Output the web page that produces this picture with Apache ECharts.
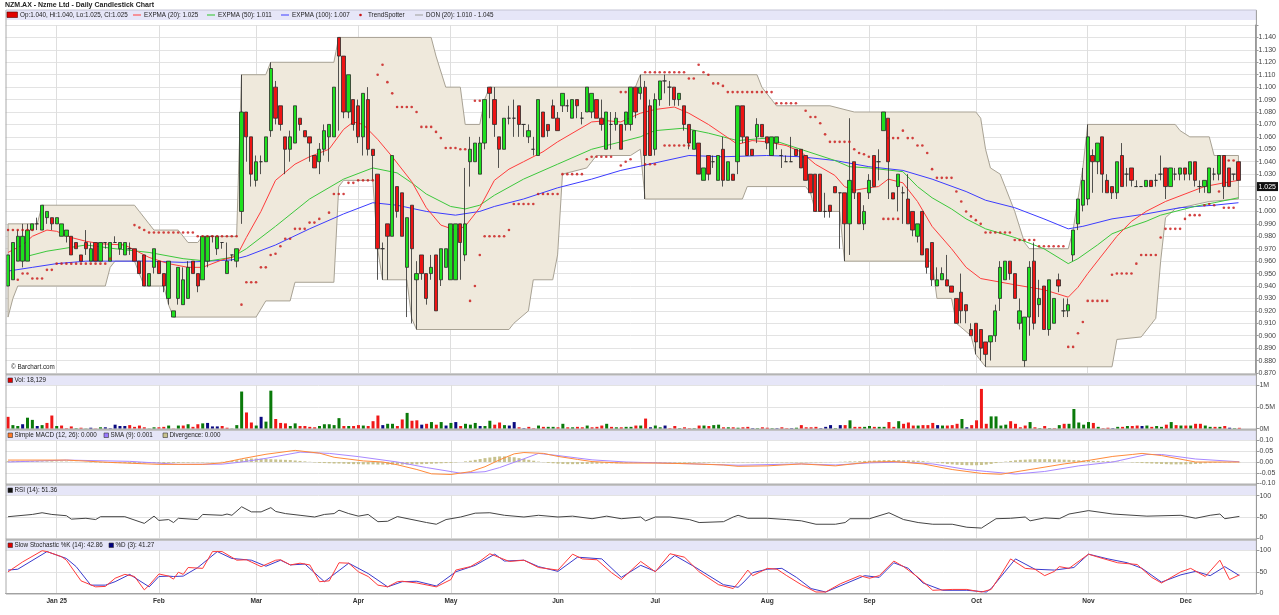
<!DOCTYPE html>
<html>
<head>
<meta charset="utf-8">
<title>NZM.AX - Daily Candlestick Chart</title>
<script src="https://cdn.jsdelivr.net/npm/echarts@6/dist/echarts.min.js"></script>
<style>
  html, body { margin: 0; padding: 0; background: #fff; }
  #chart { width: 1279px; height: 615px; }
</style>
</head>
<body>
<div id="chart"></div>
<script>
// month ticks on the trading-day axis (index of first session of each month)
const monthLabels = ['Jan 25', 'Feb', 'Mar', 'Apr', 'May', 'Jun', 'Jul', 'Aug', 'Sep', 'Oct', 'Nov', 'Dec']
const monthStarts = [10, 31, 51, 72, 91, 113, 133, 156, 177, 199, 222, 242]
const slotCount = 257 // 254 sessions + empty space on the right

// daily prices (index 0 = mid Dec 2024)
const opens = [
  .940,.945,.960,.960,.960,.985,.990,.985,.995,.995, .990,.980,.980,.980,.975,.965,.975,.960,.975,.960,
  .975,.960,.975,.970,.965,.970,.970,.960,.965,.940, .955,.960,.950,.930,.915,.930,.925,.930,.960,.950,
  .945,.960,.980,.970,.975,.950,.965,.960,1.000,1.080, 1.060,1.025,1.040,1.040,1.065,1.100,1.085,1.060,1.050,1.055,
  1.075,1.065,1.060,1.045,1.040,1.050,1.060,1.060,1.140,1.125, 1.080,1.090,1.085,1.060,1.090,1.050,1.030,.970,.990,.980,
  1.020,1.015,.955,1.005,.945,.965,.950,.950,.965,.945, .955,.945,.945,.990,.965,1.040,1.040,1.030,1.055,1.100,
  1.090,1.060,1.050,1.075,1.075,1.085,1.070,1.060,1.050,1.045, 1.080,1.070,1.085,1.075,1.085,1.085,1.075,1.090,1.075,1.080,
  1.080,1.090,1.075,1.050,1.070,1.070,1.070,1.070,1.070,1.100, 1.095,1.100,1.085,1.050,1.090,1.105,1.100,1.100,1.090,1.085,
  1.070,1.050,1.055,1.025,1.045,1.040,1.025,1.050,1.025,1.030, 1.040,1.085,1.060,1.050,1.060,1.070,1.060,1.045,1.055,1.045,
  1.040,1.040,1.050,1.050,1.045,1.030,1.030,1.030,1.000,1.005, 1.020,1.015,1.015,.990,1.040,1.015,.990,1.015,1.045,1.040,
  1.065,1.075,1.015,1.020,1.015,1.010,1.000,.980,1.000,.970, .975,.940,.945,.945,.940,.930,.935,.925,.905,.910,
  .905,.895,.895,.900,.930,.945,.960,.950,.910,.880, .915,.960,.925,.940,.905,.910,.945,.920,.920,.965,
  .990,1.005,1.010,1.045,1.040,1.060,1.025,1.020,1.015,1.045, 1.030,1.035,1.020,1.020,1.020,1.025,1.025,1.030,1.035,1.020,
  1.030,1.030,1.035,1.030,1.040,1.020,1.020,1.015,1.030,1.030, 1.045,1.035,1.030,1.040
]
const closes = [
  .965,.975,.980,.980,.985,.990,.990,1.005,1.000,.990, .995,.990,.985,.965,.970,.960,.970,.970,.960,.975,
  .975,.975,.975,.975,.975,.970,.960,.950,.940,.950, .970,.950,.940,.960,.920,.955,.945,.955,.950,.940,
  .980,.980,.980,.980,.975,.960,.965,.970,1.080,1.060, 1.030,1.040,1.040,1.060,1.115,1.075,1.070,1.050,1.060,1.085,
  1.070,1.060,1.055,1.035,1.050,1.065,1.070,1.100,1.125,1.080, 1.110,1.070,1.060,1.095,1.050,1.045,.970,.970,.980,1.045,
  1.000,.980,.995,.970,.950,.950,.930,.955,.920,.970, .970,.990,.990,.975,.990,1.050,1.055,1.055,1.090,1.095,
  1.070,1.050,1.075,1.075,1.075,1.070,1.070,1.065,1.050,1.090, 1.060,1.065,1.075,1.065,1.095,1.085,1.090,1.085,1.075,1.100,
  1.095,1.075,1.070,1.080,1.070,1.075,1.050,1.080,1.100,1.080, 1.100,1.045,1.045,1.090,1.105,1.105,1.100,1.090,1.095,1.070,
  1.055,1.065,1.030,1.035,1.030,1.040,1.045,1.025,1.040,1.025, 1.085,1.060,1.045,1.045,1.070,1.060,1.055,1.060,1.060,1.045,
  1.040,1.040,1.045,1.035,1.025,1.015,1.000,1.000,1.000,1.000, 1.015,1.015,.990,1.025,1.015,.990,1.000,1.025,1.020,1.040,
  1.080,1.040,1.010,1.030,1.015,.990,.985,.990,.965,.955, .945,.945,.950,.940,.935,.910,.920,.920,.900,.895,
  .890,.885,.900,.920,.955,.960,.950,.930,.920,.915, .955,.910,.930,.905,.945,.930,.940,.920,.925,.985,
  1.010,1.025,1.060,1.040,1.055,1.030,1.015,1.015,1.040,1.020, 1.030,1.025,1.020,1.020,1.025,1.020,1.025,1.030,1.020,1.035,
  1.030,1.035,1.030,1.040,1.025,1.020,1.025,1.035,1.030,1.045, 1.020,1.020,1.030,1.025
]
const lows = [
  .940,.945,.960,.955,.960,.985,.985,.985,.990,.985, .990,.980,.975,.965,.970,.960,.965,.960,.960,.960,
  .970,.960,.975,.965,.965,.965,.960,.950,.940,.940, .950,.950,.935,.925,.915,.925,.925,.930,.950,.935,
  .945,.955,.975,.965,.970,.950,.960,.955,.990,1.040, 1.020,1.020,1.030,1.040,1.060,1.070,1.065,1.030,1.040,1.055,
  1.065,1.060,1.040,1.035,1.030,1.045,1.040,1.060,1.065,1.075, 1.075,1.065,1.055,1.045,1.045,1.025,.945,.945,.945,.980,
  .995,.980,.915,.910,.905,.945,.925,.945,.920,.940, .955,.945,.945,.945,.960,1.020,1.040,1.030,1.050,1.075,
  1.060,1.035,1.050,1.070,1.060,1.060,1.060,1.055,1.045,1.045, 1.060,1.060,1.075,1.065,1.080,1.080,1.075,1.075,1.070,1.080,
  1.075,1.075,1.065,1.050,1.050,1.065,1.050,1.065,1.065,1.075, 1.090,1.010,1.045,1.045,1.085,1.095,1.085,1.085,1.085,1.065,
  1.050,1.050,1.030,1.025,1.025,1.035,1.025,1.020,1.025,1.025, 1.030,1.055,1.045,1.045,1.055,1.060,1.050,1.045,1.050,1.035,
  1.040,1.040,1.045,1.035,1.025,1.015,1.000,1.000,.995,.995, 1.015,.970,.960,.965,1.010,.990,.985,1.010,1.020,1.025,
  1.065,1.010,1.010,1.000,.990,.990,.980,.975,.965,.950, .940,.940,.945,.940,.935,.910,.910,.910,.900,.885,
  .880,.875,.880,.895,.920,.945,.945,.930,.905,.875, .900,.905,.915,.905,.900,.910,.935,.915,.915,.960,
  .985,1.000,1.005,1.015,1.030,1.015,1.015,1.010,1.010,1.020, 1.020,1.020,1.020,1.020,1.020,1.020,1.020,1.025,1.010,1.020,
  1.025,1.025,1.025,1.025,1.020,1.015,1.015,1.015,1.025,1.025, 1.010,1.020,1.025,1.025
]
const highs = [
  .965,.975,.985,.990,.990,.990,.995,1.005,1.000,.995, .995,.990,.985,.980,.975,.965,.985,.975,.975,.975,
  .975,.975,.980,.975,.975,.975,.970,.960,.965,.950, .970,.960,.950,.960,.920,.955,.955,.960,.960,.950,
  .980,.980,.980,.980,.975,.975,.965,.970,1.110,1.080, 1.060,1.045,1.045,1.060,1.120,1.105,1.085,1.060,1.065,1.085,
  1.075,1.065,1.060,1.045,1.055,1.070,1.070,1.100,1.140,1.125, 1.110,1.090,1.090,1.095,1.100,1.050,1.030,.975,.990,1.045,
  1.020,1.015,.995,1.005,.960,.965,.950,.965,.965,.970, .970,.990,.990,.990,1.035,1.060,1.055,1.060,1.090,1.100,
  1.100,1.060,1.075,1.085,1.090,1.085,1.070,1.070,1.060,1.090, 1.080,1.070,1.090,1.080,1.095,1.090,1.090,1.090,1.080,1.100,
  1.095,1.090,1.090,1.080,1.080,1.080,1.070,1.080,1.100,1.100, 1.110,1.105,1.090,1.095,1.105,1.110,1.105,1.100,1.095,1.085,
  1.070,1.065,1.055,1.035,1.045,1.045,1.045,1.060,1.040,1.030, 1.085,1.085,1.060,1.050,1.075,1.070,1.060,1.060,1.060,1.050,
  1.045,1.060,1.050,1.050,1.045,1.030,1.030,1.030,1.015,1.005, 1.020,1.015,1.015,1.075,1.040,1.015,1.005,1.030,1.045,1.050,
  1.080,1.075,1.015,1.030,1.020,1.030,1.000,.990,1.000,.970, .975,.955,.955,.965,.940,.930,.950,.925,.910,.910,
  .905,.895,.900,.925,.960,.960,.960,.950,.930,.915, .960,.975,.945,.940,.945,.930,.950,.930,.930,.985,
  1.010,1.035,1.070,1.050,1.055,1.060,1.030,1.020,1.040,1.055, 1.035,1.035,1.025,1.020,1.025,1.025,1.030,1.045,1.035,1.035,
  1.035,1.035,1.035,1.040,1.040,1.025,1.025,1.035,1.035,1.045, 1.045,1.035,1.030,1.040
]
// daily volume, thousands of shares
const volumes = [
  270,80,60,100,250,200,60,80,130,300, 60,70,10,50,10,20,5,20,5,30,
  30,10,90,60,60,80,40,70,30,5, 30,30,40,70,5,70,70,100,40,100,
  120,130,50,50,60,20,5,80,850,370, 140,70,270,160,870,220,130,120,60,120,
  60,60,40,30,60,100,100,80,240,60, 60,60,80,70,60,170,300,80,110,110,
  60,210,360,180,190,90,110,150,90,150, 70,130,150,60,110,90,130,60,60,180,
  90,140,80,70,150,30,10,40,10,70, 40,40,40,30,110,30,30,40,30,70,
  30,40,70,110,40,30,30,40,40,70, 70,230,30,70,30,70,10,60,10,30,
  10,10,70,70,60,80,90,30,30,30, 20,30,40,10,10,30,20,10,10,30,
  10,10,20,80,30,30,40,10,40,80, 10,80,80,190,40,40,40,60,40,40,
  40,150,40,170,110,140,70,70,80,80, 130,80,70,70,80,110,220,30,80,190,
  910,110,280,280,70,90,170,110,30,70, 150,30,10,60,10,10,80,110,110,450,
  140,90,150,130,40,10,20,10,40,40, 60,60,70,60,70,40,60,40,90,150,
  80,70,70,70,110,110,70,40,40,40, 60,20,10,18
]

// overlay lines read as [session index, value]
const ema20 = [[0,0.967],[3,0.973],[5,0.980],[8,0.985],[10,0.984],[13,0.979],[16,0.976],[19,0.974],[24,0.973],[26,0.969],[29,0.963],[33,0.958],[37,0.955],[40,0.955],[44,0.961],[47,0.964],[49,0.979],[52,1.000],[55,1.025],[59,1.038],[62,1.044],[66,1.050],[69,1.066],[71,1.072],[73,1.070],[76,1.058],[79,1.044],[83,1.024],[86,1.003],[89,0.989],[92,0.985],[94,0.988],[97,1.003],[100,1.025],[103,1.034],[106,1.040],[110,1.048],[113,1.056],[120,1.072],[123,1.073],[126,1.072],[130,1.079],[133,1.082],[137,1.084],[140,1.079],[144,1.070],[147,1.062],[150,1.054],[153,1.057],[156,1.056],[160,1.053],[163,1.048],[166,1.038],[170,1.029],[172,1.020],[174,1.017],[177,1.019],[179,1.020],[181,1.026],[184,1.023],[187,1.008],[190,0.988],[194,0.970],[197,0.955],[200,0.946],[207,0.941],[213,0.937],[218,0.931],[220,0.939],[222,0.950],[225,0.965],[228,0.980],[231,0.992],[234,1.000],[238,1.008],[242,1.014],[246,1.020],[250,1.023],[253,1.025]]
const ema50 = [[4,0.964],[8,0.968],[16,0.973],[22,0.970],[29,0.967],[36,0.962],[41,0.960],[46,0.963],[49,0.970],[55,0.988],[62,1.010],[69,1.026],[75,1.035],[80,1.031],[83,1.023],[86,1.014],[91,1.004],[94,1.002],[97,1.005],[100,1.013],[106,1.026],[113,1.038],[120,1.050],[126,1.056],[130,1.060],[133,1.065],[139,1.067],[144,1.063],[150,1.057],[156,1.059],[163,1.050],[170,1.041],[173,1.036],[177,1.035],[184,1.032],[187,1.020],[190,1.011],[194,1.002],[197,0.994],[201,0.986],[207,0.979],[213,0.970],[218,0.958],[220,0.962],[224,0.973],[227,0.982],[231,0.988],[234,0.992],[237,0.997],[241,1.001],[244,1.004],[248,1.007],[253,1.011]]
const ema100 = [[0,0.952],[5,0.955],[10,0.958],[16,0.960],[22,0.960],[29,0.960],[36,0.959],[46,0.961],[49,0.964],[55,0.973],[62,0.986],[69,0.998],[75,1.007],[80,1.005],[86,1.000],[92,0.997],[97,1.000],[100,1.004],[106,1.010],[113,1.019],[120,1.026],[126,1.033],[133,1.039],[140,1.045],[147,1.044],[156,1.045],[163,1.044],[170,1.041],[177,1.036],[184,1.033],[190,1.026],[197,1.016],[201,1.009],[207,1.003],[213,0.994],[218,0.986],[221,0.988],[227,0.994],[234,0.998],[241,1.003],[248,1.005],[253,1.007]]
const donUpper = [[0,0.990],[6,0.990],[7,1.005],[26,1.005],[27,1.000],[29,0.990],[30,0.985],[35,0.985],[37,0.975],[39,0.975],[40,0.980],[47,0.980],[48,1.110],[53,1.110],[54,1.120],[67,1.120],[68,1.140],[87,1.140],[88,1.125],[90,1.100],[93,1.100],[94,1.070],[97,1.070],[98,1.090],[99,1.100],[129,1.100],[130,1.110],[154,1.110],[155,1.100],[157,1.090],[158,1.085],[169,1.085],[174,1.080],[199,1.080],[200,1.075],[201,1.050],[202,1.035],[204,1.030],[205,1.020],[207,1.000],[209,0.975],[210,0.970],[218,0.970],[219,0.985],[220,1.010],[221,1.035],[222,1.070],[240,1.070],[241,1.065],[243,1.060],[247,1.060],[248,1.045],[253,1.045]]
const donLower = [[0,0.915],[1,0.930],[2,0.940],[20,0.940],[21,0.955],[22,0.960],[26,0.960],[27,0.950],[28,0.940],[32,0.940],[33,0.925],[34,0.915],[51,0.915],[53,0.928],[58,0.928],[59,0.943],[67,0.943],[68,1.020],[69,1.025],[75,1.025],[76,0.970],[77,0.945],[82,0.945],[83,0.914],[84,0.905],[103,0.905],[104,0.910],[107,0.920],[108,0.945],[112,0.945],[113,0.965],[114,1.030],[119,1.035],[121,1.045],[128,1.045],[130,1.050],[131,1.010],[151,1.010],[152,1.020],[164,1.020],[165,1.015],[166,1.000],[171,1.000],[172,0.960],[190,0.960],[191,0.930],[194,0.930],[195,0.910],[198,0.900],[199,0.885],[201,0.875],[227,0.875],[228,0.897],[233,0.899],[236,0.914],[237,0.960],[238,0.995],[240,1.002],[247,1.008],[253,1.010]]
// TrendSpotter dots as runs: [first index, last index, level]
const trendRuns = [
  [0,5,0.985],[2,2,0.945],[3,4,0.950],[5,7,0.946],[8,9,0.953],[10,20,0.958],[21,21,0.962],
  [26,26,0.989],[27,27,0.987],[28,28,0.985],[29,38,0.983],[39,47,0.980],
  [48,48,0.925],[49,51,0.943],[52,53,0.955],[54,54,0.965],[55,55,0.966],[56,56,0.972],[57,58,0.978],[59,61,0.986],[62,63,0.991],[64,64,0.994],[66,66,0.999],[67,69,1.014],[70,71,1.023],[72,75,1.025],
  [76,76,1.110],[77,77,1.118],[78,78,1.104],[79,79,1.095],[80,83,1.084],[84,84,1.080],[85,87,1.068],[88,88,1.064],[89,89,1.059],[90,92,1.051],[93,94,1.050],
  [96,97,1.089],[95,95,0.928],[96,96,0.940],[97,97,0.965],[98,102,0.980],[103,103,0.985],[104,108,1.006],[109,113,1.014],[114,118,1.030],[119,119,1.042],[120,124,1.044],
  [126,126,1.037],[127,127,1.040],[128,128,1.042],[126,127,1.096],[131,133,1.038],[131,139,1.112],[135,140,1.053],
  [140,141,1.107],[142,142,1.118],[143,143,1.112],[144,144,1.110],[145,146,1.103],[147,147,1.101],[148,157,1.096],
  [158,162,1.087],[164,164,1.081],[165,166,1.076],[167,167,1.071],[168,168,1.062],[169,173,1.056],[174,174,1.050],[175,175,1.047],[176,176,1.046],[177,177,1.044],
  [180,183,0.994],[181,183,1.059],[184,184,1.065],[185,186,1.059],[187,188,1.053],[189,189,1.047],[190,190,1.034],[191,194,1.027],[195,195,1.016],[196,196,1.008],[197,197,1.000],[198,198,0.996],[199,199,0.993],[200,200,0.990],
  [201,206,0.983],[207,211,0.977],[212,217,0.972],
  [218,219,0.891],[220,220,0.902],[221,221,0.911],[222,226,0.928],[227,227,0.949],[228,231,0.950],[232,232,0.958],[233,236,0.965],[237,237,0.979],[238,241,0.986],[242,242,0.994],[243,245,0.997],[246,246,1.005],[247,247,1.006],[248,248,1.005],[249,249,1.016],[250,252,1.003],[251,252,1.041]
]

// MACD panel
const macdLine = [[0,0.009],[12,0.009],[21,-0.002],[31,-0.011],[40,-0.011],[44,-0.004],[48,0.015],[53,0.036],[59,0.054],[64,0.041],[67,0.022],[73,0.005],[77,0.0],[80,-0.013],[84,-0.035],[87,-0.055],[91,-0.058],[95,-0.045],[98,-0.022],[101,0.010],[104,0.038],[106,0.044],[110,0.040],[113,0.026],[117,0.012],[120,0.002],[126,-0.005],[133,-0.005],[140,-0.008],[147,-0.014],[150,-0.020],[156,-0.018],[163,-0.009],[170,-0.018],[177,0.0],[182,0.002],[188,-0.009],[194,-0.035],[200,-0.053],[204,-0.057],[210,-0.035],[217,-0.009],[220,0.0],[227,0.026],[231,0.035],[233,0.040],[237,0.030],[244,0.0],[253,0.0]]
const macdSignal = [[0,0.0],[12,0.009],[25,0.003],[35,-0.011],[44,-0.010],[48,0.0],[53,0.017],[60,0.046],[66,0.040],[72,0.025],[80,0.0],[86,-0.026],[93,-0.052],[98,-0.045],[101,-0.026],[106,0.015],[109,0.040],[113,0.030],[120,0.010],[127,0.0],[135,-0.005],[141,-0.009],[150,-0.015],[163,-0.009],[170,-0.014],[177,-0.004],[184,0.0],[190,-0.009],[197,-0.035],[201,-0.044],[207,-0.056],[213,-0.044],[220,-0.018],[227,0.0],[234,0.035],[237,0.035],[244,0.014],[253,0.001]]
const macdDiv = [
  .004,.004,.005,.005,.004,.004,.004,.003,.003,.003, .002,.002,.002,.001,.001,.000,-.001,-.002,-.002,-.003,
  -.004,-.004,-.005,-.005,-.005,-.006,-.006,-.006,-.006,-.005, -.005,-.005,-.005,-.004,-.004,-.004,-.003,-.003,-.002,-.002,
  -.002,-.001,-.001,.000,.001,.003,.005,.008,.012,.015, .016,.016,.015,.014,.013,.012,.011,.010,.009,.007,
  .005,.003,.001,-.002,-.004,-.005,-.006,-.007,-.007,-.008, -.009,-.010,-.010,-.011,-.011,-.011,-.012,-.012,-.012,-.012,
  -.012,-.012,-.012,-.011,-.011,-.010,-.009,-.008,-.007,-.006, -.005,-.004,-.002,.000,.003,.006,.010,.014,.018,.021,
  .024,.026,.026,.025,.022,.018,.014,.010,.006,.002, -.001,-.004,-.006,-.008,-.009,-.010,-.010,-.010,-.009,-.009,
  -.008,-.008,-.007,-.007,-.006,-.006,-.005,-.005,-.004,-.004, -.004,-.004,-.004,-.004,-.003,-.003,-.003,-.003,-.003,-.003,
  -.003,-.003,-.003,-.003,-.003,-.002,-.002,-.002,-.002,-.002, -.002,-.002,-.002,-.002,-.002,-.002,-.002,-.002,-.002,-.002,
  -.002,-.002,-.002,-.002,-.002,-.002,-.002,-.002,-.001,-.001, .000,.001,.002,.003,.003,.004,.005,.006,.007,.008,
  .009,.009,.009,.009,.008,.008,.007,.006,.004,.002, .000,-.003,-.006,-.009,-.011,-.013,-.014,-.015,-.015,-.015,
  -.014,-.012,-.009,-.005,-.002,.002,.005,.008,.010,.011, .012,.013,.013,.013,.013,.012,.012,.011,.010,.009,
  .008,.007,.006,.005,.005,.004,.004,.003,.002,.001, .000,-.002,-.003,-.005,-.006,-.007,-.008,-.009,-.010,-.011,
  -.011,-.011,-.011,-.010,-.009,-.008,-.006,-.005,-.004,-.003, -.002,-.002,-.001,-.001
]
// RSI and slow stochastic, read as [session index, value]
const rsiLine = [[0,50.7],[5,56],[7,60],[9,56],[12,53],[13,45],[16,47],[18,44],[19,50.7],[24,50.7],[28,35],[30,52],[31,42],[33,44],[34,37],[35,47],[39,44],[40,56],[44,54],[45,57],[46,54],[48,74],[50,62],[52,62],[54,72],[55,63],[57,58],[60,54],[63,50],[65,56],[67,58],[68,66],[70,58],[72,52],[74,56],[76,39],[78,40],[80,51],[83,44],[86,37],[88,33],[90,44],[93,50],[96,59],[99,60],[102,54],[106,50],[109,54],[113,50],[116,52],[120,46],[123,52],[126,46],[130,50],[131,41],[133,50],[136,50],[140,44],[142,37],[147,39],[149,50],[150,54],[152,47],[156,47],[160,44],[163,41],[166,33],[170,33],[172,37],[173,46],[177,46],[181,60],[184,44],[187,37],[190,33],[194,33],[197,26],[200,24],[203,46],[206,47],[209,50],[210,41],[213,48],[216,46],[218,57],[222,65],[227,57],[234,52],[241,54],[244,47],[247,54],[249,57],[250,46],[253,51.36]]
const stochK = [[0,50],[3,73],[7,99],[8,97],[11,85],[12,77],[15,29],[18,15],[20,16],[22,35],[24,44],[26,39],[28,8],[29,19],[31,45],[33,40],[34,33],[35,49],[36,44],[37,60],[40,58],[42,97],[44,97],[47,77],[49,78],[52,62],[55,77],[56,78],[58,66],[60,70],[62,66],[64,27],[66,29],[68,71],[70,70],[72,50],[74,39],[76,19],[78,15],[80,27],[81,28],[84,24],[88,15],[91,32],[92,54],[95,62],[97,75],[99,92],[103,74],[106,77],[109,60],[113,54],[116,91],[118,80],[121,78],[124,48],[126,32],[130,74],[133,50],[136,92],[139,84],[142,50],[146,20],[149,11],[150,24],[152,54],[153,41],[156,58],[158,56],[160,41],[163,20],[166,3],[168,3],[171,22],[175,41],[177,35],[179,41],[182,75],[184,62],[187,37],[190,7],[194,9],[197,9],[200,3],[202,9],[204,43],[206,80],[209,58],[211,56],[213,41],[215,51],[216,62],[218,58],[222,91],[224,84],[228,71],[232,67],[235,37],[237,24],[241,50],[243,58],[246,39],[249,77],[251,32],[253,42.86]]
const stochD = [[0,54],[2,56],[8,97],[12,81],[14,62],[17,19],[20,19],[22,27],[25,44],[29,15],[31,39],[33,40],[34,39],[36,40],[39,60],[43,97],[46,81],[50,77],[53,63],[56,77],[58,66],[61,68],[65,27],[70,70],[74,46],[78,15],[81,27],[84,28],[88,17],[92,50],[96,65],[100,91],[102,75],[106,77],[109,62],[113,51],[117,84],[122,80],[126,37],[130,65],[133,51],[137,88],[141,62],[147,20],[150,14],[151,24],[153,48],[156,56],[159,58],[162,37],[165,11],[168,3],[172,22],[176,41],[179,37],[182,71],[185,58],[188,24],[192,7],[197,7],[201,3],[202,11],[207,80],[211,56],[215,54],[219,60],[222,91],[226,80],[230,71],[233,58],[237,26],[241,43],[244,51],[247,41],[250,62],[253,41.27]]

const FONT = '"Liberation Sans", Arial, sans-serif'
const LEG = 6.3 // legend font size
const last = closes.length - 1
const xCats = Array.from({ length: slotCount }, (_, i) => i)
const candles = opens.map((o, i) => [o, closes[i], lows[i], highs[i]])
const trendDots = []
trendRuns.forEach(([a, b, v]) => { for (let i = a; i <= b; i++) trendDots.push([i, v]) })

function volColor(i) {
  if (i === 0) return '#f01818'
  const d = closes[i] - closes[i - 1]
  if (d > 0.0001) return '#0a7a0a'
  if (d < -0.0001) return '#f01818'
  return '#0a0a80'
}

const isMonth = (i) => monthStarts.indexOf(i) >= 0
function xAxisFor(gi) {
  const bottom = gi === 4
  return {
    type: 'category', gridIndex: gi, data: xCats, boundaryGap: true,
    axisLine: { show: bottom, lineStyle: { color: '#999' } },
    axisTick: { show: false },
    axisLabel: {
      show: bottom, interval: isMonth, margin: 4,
      fontSize: 6.6, fontWeight: 'bold', color: '#333', fontFamily: FONT,
      formatter: (v, i) => monthLabels[monthStarts.indexOf(i)] || ''
    },
    splitLine: { show: true, interval: isMonth, alignWithLabel: true, lineStyle: { color: '#dedede', width: 1 } }
  }
}
function yAxisFor(gi, min, max, interval, fmt) {
  return {
    type: 'value', gridIndex: gi, position: 'right', min, max, interval,
    axisLine: { show: true, lineStyle: { color: '#999' } },
    axisTick: { show: true, length: 3, lineStyle: { color: '#999' } },
    axisLabel: { fontSize: 7, color: '#444', margin: 3, fontFamily: FONT, formatter: fmt },
    splitLine: { show: true, lineStyle: { color: '#e3e3e3' } }
  }
}

const L = 5.6, R = 1279 - 1256.4
const grids = [
  { left: L, right: R, top: 25, height: 348 },
  { left: L, right: R, top: 385, height: 43.6 },
  { left: L, right: R, top: 440.5, height: 43 },
  { left: L, right: R, top: 495.7, height: 42.6 },
  { left: L, right: R, top: 550.3, height: 43 }
]

const lineS = (data, color, xi, extra) => Object.assign({
  type: 'line', data, xAxisIndex: xi, yAxisIndex: xi, symbol: 'none', silent: true,
  lineStyle: { color, width: 1 }, z: 3
}, extra || {})

// legend strip helpers
const txt = (x, y, s, size, weight) => ({
  type: 'text', x, y, silent: true, z: 100,
  style: { text: s, fill: '#222', fontSize: size || LEG, fontWeight: weight || 'normal', fontFamily: FONT, verticalAlign: 'middle' }
})
const sq = (x, y, fill) => ({ type: 'rect', silent: true, z: 100, shape: { x, y: y - 2, width: 4.5, height: 4.5 }, style: { fill, stroke: '#333', lineWidth: 0.6 } })
const seg = (x1, x2, y, color) => ({ type: 'line', silent: true, z: 100, shape: { x1, y1: y, x2, y2: y }, style: { stroke: color, lineWidth: 1.2 } })
const band = (y, h) => ({ type: 'rect', silent: true, z: 50, shape: { x: 6.5, y, width: 1249.9, height: h }, style: { fill: '#e6e6f8' } })
const hbar = (y) => ({ type: 'rect', silent: true, z: 60, shape: { x: 6, y, width: 1250.4, height: 2 }, style: { fill: '#b4b4b4' } })

const f3 = (v) => v.toFixed(3)
const graphics = [
  txt(5, 5, 'NZM.AX - Nzme Ltd - Daily Candlestick Chart', 7, 'bold'),
  band(10, 10), band(375.5, 9.5), band(430.5, 9.5), band(485.5, 9.5), band(540.5, 9.5),
  hbar(373.5), hbar(428.8), hbar(483.8), hbar(538.8),
  { type: 'line', silent: true, z: 60, shape: { x1: 6, y1: 10, x2: 6, y2: 594 }, style: { stroke: '#aaa', lineWidth: 1 } },
  { type: 'line', silent: true, z: 60, shape: { x1: 1256.4, y1: 10, x2: 1256.4, y2: 594 }, style: { stroke: '#999', lineWidth: 1 } },
  { type: 'line', silent: true, z: 60, shape: { x1: 6, y1: 10, x2: 1256.4, y2: 10 }, style: { stroke: '#c4c4d4', lineWidth: 1 } },
  { type: 'line', silent: true, z: 60, shape: { x1: 6, y1: 594, x2: 1256.4, y2: 594 }, style: { stroke: '#aaa', lineWidth: 1 } },
  // price legend
  { type: 'rect', silent: true, z: 100, shape: { x: 7, y: 12, width: 10.5, height: 5.5 }, style: { fill: '#e00000', stroke: '#550000', lineWidth: 0.6 } },
  txt(20, 15, 'Op:' + f3(opens[last]) + ', Hi:' + f3(highs[last]) + ', Lo:' + f3(lows[last]) + ', Cl:' + f3(closes[last])),
  seg(133, 141, 15, '#ff5a5a'), txt(144, 15, 'EXPMA (20): ' + f3(ema20[ema20.length - 1][1])),
  seg(207, 215, 15, '#4ccc4c'), txt(218, 15, 'EXPMA (50): ' + f3(ema50[ema50.length - 1][1])),
  seg(281, 289, 15, '#5a5aff'), txt(292, 15, 'EXPMA (100): ' + f3(ema100[ema100.length - 1][1])),
  { type: 'circle', silent: true, z: 100, shape: { cx: 360.5, cy: 15, r: 1.3 }, style: { fill: '#c81414' } },
  txt(368, 15, 'TrendSpotter'),
  seg(415, 423, 15, '#aaa'), txt(426, 15, 'DON (20): ' + f3(donLower[donLower.length - 1][1]) + ' - ' + f3(donUpper[donUpper.length - 1][1])),
  txt(11, 367, '\u00a9 Barchart.com', 6.3),
  // lower panel legends
  sq(8, 380, '#e00000'), txt(14.5, 380, 'Vol: 18,129'),
  sq(8, 435, '#ff7a2a'), txt(14.5, 435, 'Simple MACD (12, 26): 0.000'),
  sq(104, 435, '#9a7aff'), txt(110.5, 435, 'SMA (9): 0.001'),
  sq(163, 435, '#c8c28e'), txt(169.5, 435, 'Divergence: 0.000'),
  sq(8, 490, '#111'), txt(14.5, 490, 'RSI (14): ' + rsiLine[rsiLine.length - 1][1].toFixed(2)),
  sq(8, 545, '#e00000'), txt(14.5, 545, 'Slow Stochastic %K (14): ' + stochK[stochK.length - 1][1].toFixed(2)),
  sq(109, 545, '#000080'), txt(115.5, 545, '%D (3): ' + stochD[stochD.length - 1][1].toFixed(2))
]

const option = {
  animation: false,
  backgroundColor: '#fff',
  textStyle: { fontFamily: FONT },
  grid: grids,
  xAxis: [0, 1, 2, 3, 4].map(xAxisFor),
  yAxis: [
    yAxisFor(0, 0.87, 1.15, 0.01, (v) => (v > 1.145 ? '' : v.toFixed(3))),
    yAxisFor(1, 0, 1000, 500, (v) => (v === 0 ? '0M' : v === 500 ? '0.5M' : '1M')),
    yAxisFor(2, -0.1, 0.1, 0.05, (v) => (Math.abs(v) < 1e-9 ? '0.00' : v.toFixed(2))),
    yAxisFor(3, 0, 100, 50, (v) => String(Math.round(v))),
    yAxisFor(4, 0, 100, 50, (v) => String(Math.round(v)))
  ],
  graphic: graphics,
  series: [
    {
      type: 'custom', name: 'DON', xAxisIndex: 0, yAxisIndex: 0, silent: true, z: 1, data: [0],
      renderItem: (params, api) => {
        const pts = donUpper.map((d) => api.coord(d)).concat(donLower.slice().reverse().map((d) => api.coord(d)))
        return { type: 'polygon', shape: { points: pts }, style: { fill: '#efe9dc', stroke: '#a8a294', lineWidth: 1 } }
      }
    },
    lineS(ema100, '#3c3cff', 0),
    lineS(ema50, '#3cc83c', 0),
    lineS(ema20, '#ff3c3c', 0),
    {
      type: 'candlestick', name: 'NZM.AX', xAxisIndex: 0, yAxisIndex: 0, data: candles, barWidth: 3.8, z: 4,
      itemStyle: {
        color: '#1ee01e', color0: '#ee1414',
        borderColor: '#2a2a2a', borderColor0: '#2a2a2a', borderColorDoji: '#2a2a2a', borderWidth: 0.8
      },
      markLine: {
        symbol: 'none', silent: true, animation: false,
        lineStyle: { color: 'rgba(0,0,0,0)', width: 1 },
        label: {
          position: 'end', distance: 1, formatter: f3(closes[last]), color: '#fff',
          backgroundColor: '#111', fontSize: 7, padding: [1, 2, 1, 2], fontFamily: FONT
        },
        data: [{ yAxis: closes[last] }]
      }
    },
    {
      type: 'scatter', name: 'TrendSpotter', xAxisIndex: 0, yAxisIndex: 0, data: trendDots,
      symbolSize: 2.6, itemStyle: { color: '#c81414' }, silent: true, z: 5
    },
    {
      type: 'bar', name: 'Volume', xAxisIndex: 1, yAxisIndex: 1, barWidth: 3, silent: true,
      data: volumes.map((v, i) => ({ value: v, itemStyle: { color: volColor(i) } }))
    },
    {
      type: 'bar', name: 'Divergence', xAxisIndex: 2, yAxisIndex: 2, barWidth: 3, silent: true,
      data: macdDiv, itemStyle: { color: '#c8c28e' }
    },
    lineS(macdSignal, '#a888ff', 2),
    lineS(macdLine, '#ff8a3a', 2),
    lineS(rsiLine, '#444', 3),
    lineS(stochD, '#3a3acc', 4),
    lineS(stochK, '#ff3a3a', 4)
  ]
}

const chart = echarts.init(document.getElementById('chart'), null, { renderer: 'canvas' })
chart.setOption(option)
window.addEventListener('resize', () => chart.resize())
</script>
</body>
</html>
